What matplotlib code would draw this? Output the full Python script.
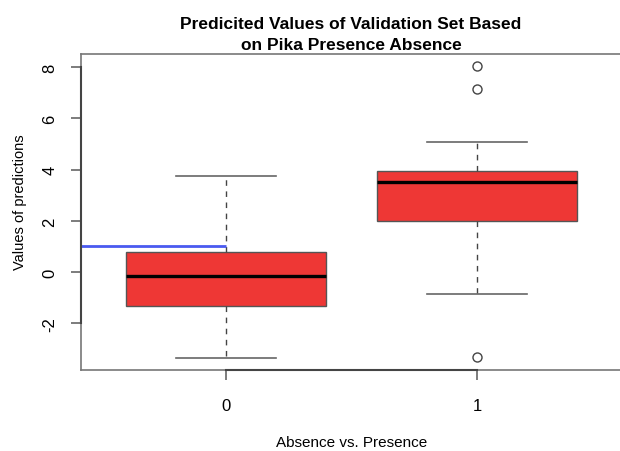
import matplotlib
matplotlib.use("Agg")
import matplotlib.pyplot as plt

# box statistics
groups = [0, 1]
group_labels = ["0", "1"]
medians = [-0.17, 3.50]
q1s = [-1.31, 2.01]
q3s = [0.77, 3.96]
whisk_lo = [-3.35, -0.86]
whisk_hi = [3.74, 5.08]
outliers = [[], [8.05, 7.16, -3.33]]
y_ticks = [-2, 0, 2, 4, 6, 8]
threshold = 1.0

title = "Predicited Values of Validation Set Based\non Pika Presence Absence"
xlabel = "Absence vs. Presence"
ylabel = "Values of predictions"

plt.rcParams["font.family"] = ["Liberation Sans", "DejaVu Sans"]

fig = plt.figure(figsize=(6.2, 4.52), dpi=100)
ax = fig.add_axes([81 / 620, 1 - 371 / 452, 541 / 620, 316 / 452])

stats = []
for i in range(len(groups)):
    stats.append(dict(med=medians[i], q1=q1s[i], q3=q3s[i],
                      whislo=whisk_lo[i], whishi=whisk_hi[i],
                      fliers=outliers[i]))

ax.bxp(stats, positions=groups, widths=0.8, capwidths=0.4, patch_artist=True,
       boxprops=dict(facecolor="#EE3735", edgecolor="#555555", linewidth=1.0),
       medianprops=dict(color="black", linewidth=2.4),
       whiskerprops=dict(color="#444444", linewidth=1.0, linestyle=(0, (4, 4))),
       capprops=dict(color="#666666", linewidth=1.2),
       flierprops=dict(marker="o", markersize=6.5, markerfacecolor="none",
                       markeredgecolor="#444444", markeredgewidth=1.0))

ax.set_xlim(-0.578, 1.578)
ax.set_ylim(-3.83, 8.52)

# threshold line from the left edge to the first group
ax.hlines(threshold, ax.get_xlim()[0], groups[0], color="#4A5AF0", linewidth=2.0, zorder=5)

for s in ax.spines.values():
    s.set_color("#777777")
    s.set_linewidth(1.2)
# R-style axis lines between first and last tick
ax.plot([groups[0], groups[-1]], [ax.get_ylim()[0]] * 2, color="#444444", lw=1.5,
        clip_on=False, zorder=6)
ax.plot([ax.get_xlim()[0]] * 2, [y_ticks[0], y_ticks[-1]], color="#444444", lw=1.5,
        clip_on=False, zorder=6)

ax.set_xticks(groups)
ax.set_xticklabels(group_labels, fontsize=12)
ax.set_yticks(y_ticks)
ax.set_yticklabels([str(t) for t in y_ticks], fontsize=12, rotation=90, va="center")
ax.tick_params(axis="both", direction="out", length=7, width=1.2, color="#666666")
ax.tick_params(axis="x", pad=13)
ax.tick_params(axis="y", pad=10)

ax.set_xlabel(xlabel, fontsize=11)
ax.xaxis.label.set_va("center")
ax.xaxis.set_label_coords(0.5, (371 - 443) / 316)
ax.set_ylabel(ylabel, fontsize=10.5)
ax.yaxis.label.set_va("center")
ax.yaxis.set_label_coords((20 - 81) / 541, 0.535)
fig.text(351 / 620, 1 - 35 / 452, title, ha="center", va="center",
         fontsize=12.5, fontweight="bold", linespacing=1.45)

fig.savefig("out.png", dpi=100, facecolor="white")
